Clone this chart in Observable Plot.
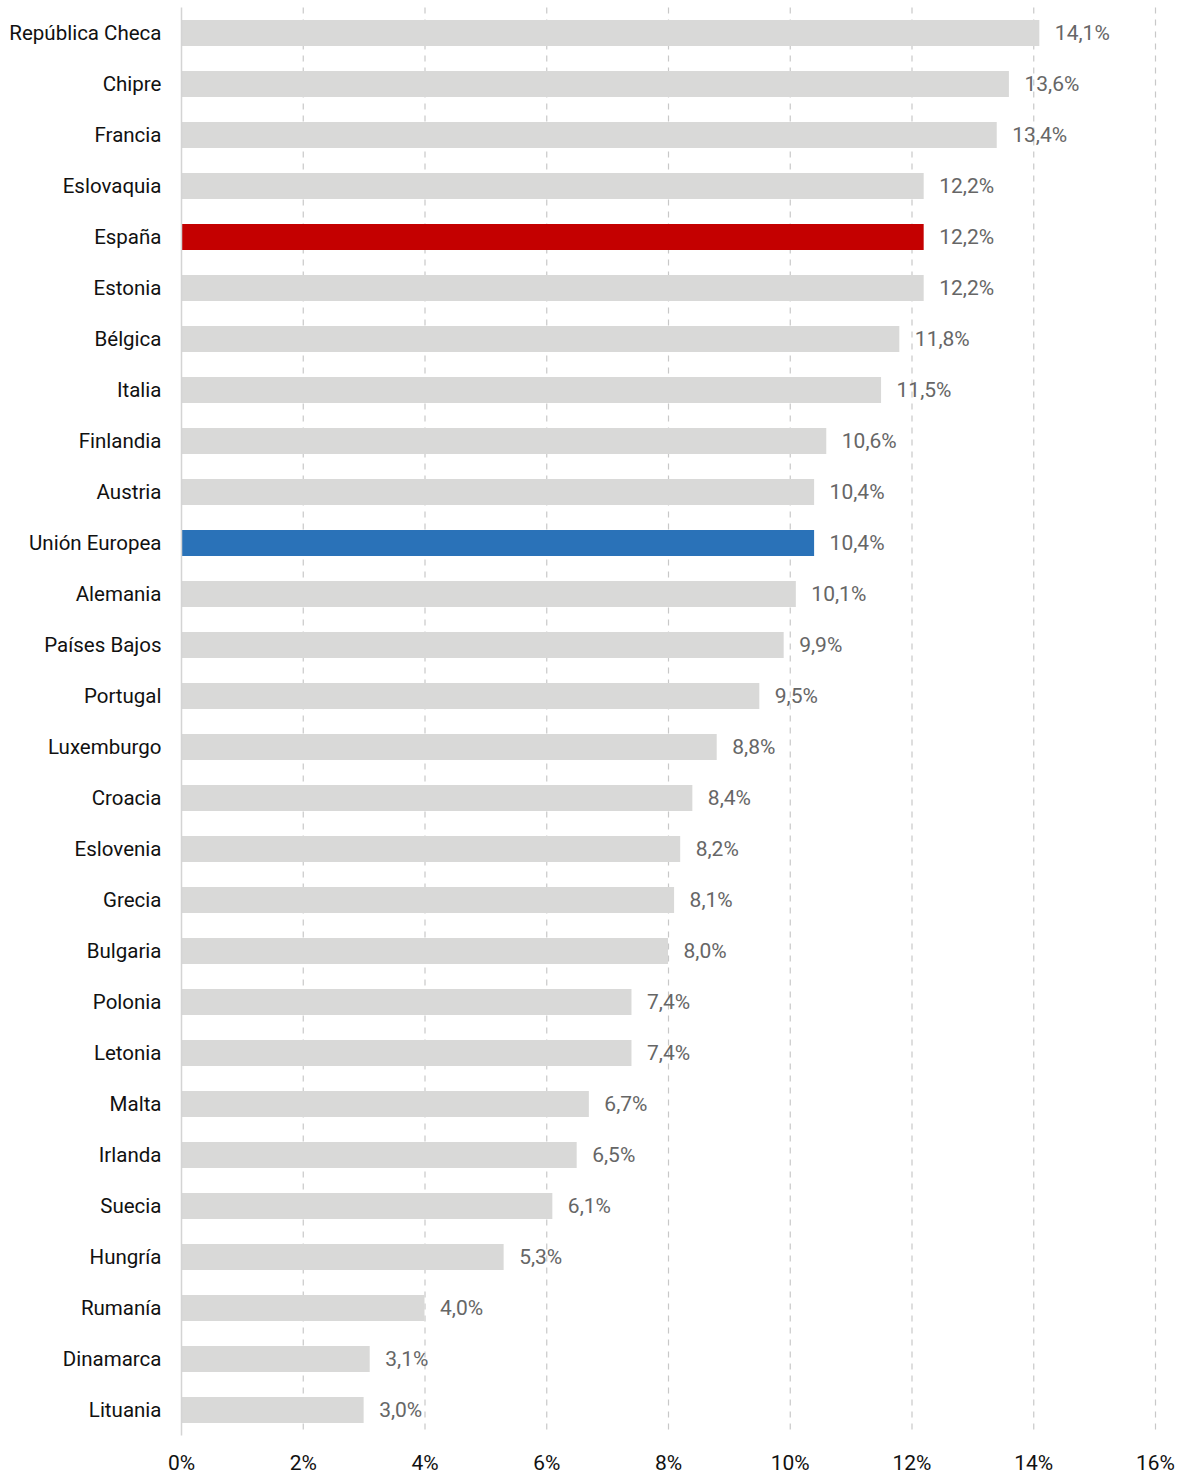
<!DOCTYPE html>
<html>
<head>
<meta charset="utf-8">
<script src="https://cdn.jsdelivr.net/npm/d3@7"></script>
<script src="https://cdn.jsdelivr.net/npm/@observablehq/plot@0.6"></script>
<style>
  html, body { margin: 0; padding: 0; background: #fff; }
  #chart { width: 1186px; }
  svg { display: block; }
</style>
</head>
<body>
<div id="chart"></div>
<script>
const countries = ["República Checa","Chipre","Francia","Eslovaquia","España","Estonia","Bélgica","Italia","Finlandia","Austria","Unión Europea","Alemania","Países Bajos","Portugal","Luxemburgo","Croacia","Eslovenia","Grecia","Bulgaria","Polonia","Letonia","Malta","Irlanda","Suecia","Hungría","Rumanía","Dinamarca","Lituania"];
const values = [14.1,13.6,13.4,12.2,12.2,12.2,11.8,11.5,10.6,10.4,10.4,10.1,9.9,9.5,8.8,8.4,8.2,8.1,8.0,7.4,7.4,6.7,6.5,6.1,5.3,4.0,3.1,3.0];
const xTicks = [0,2,4,6,8,10,12,14,16];
const highlight = {"España": "#c40000", "Unión Europea": "#2a72b8"};

const data = countries.map((c, i) => ({country: c, value: values[i]}));
const fmt = v => v.toFixed(1).replace(".", ",") + "%";

const chart = Plot.plot({
  width: 1186,
  height: 1475,
  marginLeft: 181,
  marginRight: 31,
  marginTop: 7.5,
  marginBottom: 39.5,
  style: {fontFamily: "Roboto, sans-serif", fontSize: "20px", background: "#fff"},
  x: {domain: [0, 16], ticks: xTicks, tickFormat: d => d + "%", label: null},
  y: {domain: countries, paddingInner: 0.5, paddingOuter: 0.25, label: null},
  marks: [
    Plot.gridX(xTicks.slice(1), {stroke: "#c8c8c8", strokeOpacity: 1, strokeDasharray: "6,6", strokeWidth: 1.2}),
    Plot.barX(data, {y: "country", x: "value", fill: d => highlight[d.country] || "#d9d9d8"}),
    Plot.ruleX([0], {stroke: "#d4d4d4", strokeWidth: 1.5}),
    Plot.text(data, {y: "country", x: "value", text: d => fmt(d.value), textAnchor: "start", dx: 15, fill: "#666", fontSize: 21}),
    Plot.axisX({ticks: xTicks, tickFormat: d => d + "%", tickSize: 0, tickPadding: 19, fontSize: 21, fill: "#111", label: null}),
    Plot.axisY({tickSize: 0, tickPadding: 20, fontSize: 20.5, fill: "#111", label: null})
  ]
});
document.getElementById("chart").appendChild(chart);
</script>
</body>
</html>
